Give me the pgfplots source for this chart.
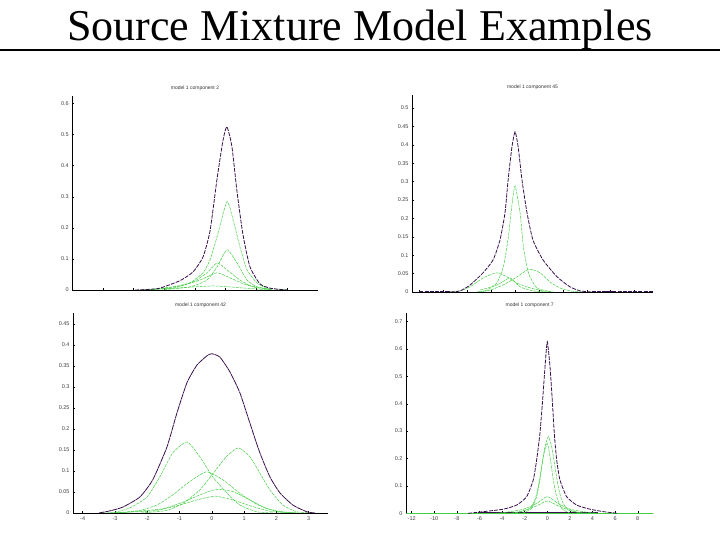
\documentclass[border=0pt]{standalone}
\usepackage{fontspec}
\setmainfont{Liberation Serif}
\setsansfont{Liberation Sans}
\usepackage{pgfplots}
\pgfplotsset{compat=1.18}
\definecolor{tot}{RGB}{55,15,75}
\definecolor{grn}{RGB}{70,205,70}
\pgfplotsset{
 panel/.style={
  scale only axis,
  axis x line=bottom, axis y line=left,
  axis line style={-, line width=0.6pt, black},
  tick style={black, line width=0.4pt},
  major tick length=2pt, tick align=inside,
  ticklabel style={font=\sffamily\fontsize{5.5}{6}\selectfont, text=black!75},
  /pgf/number format/assume math mode=true,
  /pgf/number format/fixed,
  /pgf/number format/precision=2,
  ymin=0,
  title style={font=\sffamily\fontsize{5}{6}\selectfont, text=black!80, yshift=-4pt},
  every axis plot/.append style={smooth, tension=0.35},
 },
 totl/.style={color=tot, line width=0.8pt, dash pattern=on 4pt off 1.2pt},
 comp/.style={color=grn, line width=0.5pt, dash pattern=on 3pt off 1pt},
}
\begin{document}
\begin{tikzpicture}
\useasboundingbox (0,0) rectangle (720pt,540pt);
\node[anchor=base, font=\fontsize{44}{48}\selectfont] at (360pt,499pt) {Source Mixture Model Examples};
\draw[line width=2pt] (0pt,490pt) -- (720pt,490pt);

% top-left
\begin{axis}[panel, at={(72.3pt,250pt)}, anchor=south west,
  width=245.4pt, height=194pt, xmin=-8, xmax=8, ymax=0.624,
  xtick={-6,-4,-2,0,2,4,6}, xticklabels={}, ytick={0,0.1,0.2,0.3,0.4,0.5,0.6},
  title={model 1 component 2}]
\addplot[comp] coordinates {(-7.7,0) (8,0)};
\addplot[comp] coordinates {(-3.6,0) (-1.3,0.006) (1.17,0.013) (3.26,0.006) (4.9,0)};
\addplot[comp] coordinates {(-3,0) (-0.98,0.013) (0.33,0.032) (1.43,0.055) (2.28,0.039) (3.39,0.016) (5,0.001)};
\addplot[comp] coordinates {(-3,0.001) (-1.43,0.01) (-0.13,0.026) (0.78,0.055) (1.43,0.087) (2.08,0.065) (2.93,0.032) (3.78,0.01) (5,0.001)};
\addplot[comp] coordinates {(-2,0.001) (-0.33,0.01) (0.78,0.032) (1.43,0.074) (2.08,0.129) (2.74,0.087) (3.39,0.032) (4.04,0.01) (5,0.001)};
\addplot[comp] coordinates {(-3,0.001) (-1.43,0.006) (-0.33,0.023) (0.52,0.055) (0.98,0.097) (1.43,0.17) (2.08,0.284) (2.48,0.226) (2.93,0.139) (3.39,0.065) (4.04,0.023) (4.69,0.006) (6,0.001)};
\addplot[totl] coordinates {(-3.9,0) (-3,0.002) (-2.28,0.006) (-0.98,0.03) (-0.13,0.058) (0.52,0.106) (0.98,0.19) (1.43,0.355) (1.82,0.48) (2.08,0.525) (2.41,0.46) (2.73,0.32) (3.12,0.18) (3.58,0.075) (4.23,0.02) (4.88,0.006) (5.5,0.002) (6,0)};
\end{axis}

% top-right
\begin{axis}[panel, at={(412pt,248pt)}, anchor=south west,
  width=241pt, height=197pt, xmin=-4.31, xmax=5.77, ymax=0.535,
  xtick={-4,-3,-2,-1,0,1,2,3,4,5}, xticklabels={},
  ytick={0,0.05,0.1,0.15,0.2,0.25,0.3,0.35,0.4,0.45,0.5},
  title={model 1 component 45}]
\addplot[comp] coordinates {(-1.46,0.005) (-0.75,0.019) (-0.21,0.038) (0.21,0.014) (0.75,0.003) (1.3,0)};
\addplot[comp] coordinates {(-1.5,0) (-1.05,0.005) (-0.5,0.019) (0.08,0.041) (0.59,0.062) (1.05,0.052) (1.46,0.027) (1.88,0.011) (2.3,0.003) (2.8,0)};
\addplot[comp] coordinates {(-2.8,0) (-2.3,0.003) (-1.88,0.014) (-1.34,0.038) (-0.77,0.052) (-0.33,0.041) (0.08,0.024) (0.63,0.011) (1.17,0.003) (1.6,0)};
\addplot[comp] coordinates {(-1.6,0) (-1.18,0.005) (-0.77,0.024) (-0.49,0.068) (-0.28,0.149) (-0.14,0.231) (0,0.288) (0.21,0.215) (0.35,0.122) (0.56,0.052) (0.91,0.011) (1.5,0.001)};
\addplot[totl] coordinates {(-2.7,0) (-2.3,0.003) (-1.88,0.019) (-1.34,0.052) (-0.92,0.087) (-0.63,0.141) (-0.42,0.215) (-0.29,0.304) (-0.13,0.394) (0,0.435) (0.13,0.394) (0.29,0.304) (0.5,0.215) (0.75,0.141) (1.17,0.087) (1.76,0.041) (2.3,0.014) (2.72,0.003) (3.2,0)};
\addplot[totl] coordinates {(-4.0,0.001) (-2.7,0.001)};
\addplot[totl] coordinates {(3.2,0.001) (5.77,0.001)};
\end{axis}

% bottom-left
\begin{axis}[panel, at={(73pt,27pt)}, anchor=south west,
  width=255pt, height=200pt, xmin=-4.3, xmax=3.6, ymax=0.476,
  xtick={-4,-3,-2,-1,0,1,2,3},
  ytick={0,0.05,0.1,0.15,0.2,0.25,0.3,0.35,0.4,0.45},
  title={model 1 component 42}]
\addplot[comp] coordinates {(-3.2,0) (-1.83,0.005) (-1.08,0.017) (-0.47,0.031) (0.1,0.040) (0.65,0.031) (1.28,0.015) (1.89,0.003) (2.6,0)};
\addplot[comp] coordinates {(-3.0,0) (-1.61,0.009) (-0.99,0.023) (-0.37,0.043) (0.14,0.056) (0.65,0.051) (1.18,0.031) (1.70,0.011) (2.20,0.002) (2.7,0)};
\addplot[comp] coordinates {(-3.0,0) (-2.23,0.006) (-1.70,0.019) (-1.21,0.043) (-0.68,0.075) (-0.16,0.098) (0.34,0.079) (0.87,0.047) (1.39,0.021) (1.89,0.006) (2.6,0)};
\addplot[comp] coordinates {(-2.2,0) (-1.40,0.006) (-0.89,0.023) (-0.37,0.055) (0.04,0.094) (0.45,0.134) (0.82,0.155) (1.18,0.134) (1.49,0.095) (1.80,0.055) (2.20,0.019) (2.63,0.003) (3.1,0)};
\addplot[comp] coordinates {(-3.4,0) (-3.06,0.001) (-2.54,0.012) (-2.01,0.038) (-1.61,0.086) (-1.21,0.143) (-0.77,0.169) (-0.37,0.134) (0.03,0.086) (0.46,0.048) (0.87,0.019) (1.39,0.003) (1.9,0)};
\addplot[totl, dash pattern=on 6pt off 0.6pt] coordinates {(-3.5,0) (-3.16,0.005) (-2.76,0.014) (-2.23,0.038) (-1.83,0.079) (-1.39,0.157) (-1.08,0.238) (-0.77,0.310) (-0.46,0.352) (-0.15,0.374) (0,0.379) (0.25,0.371) (0.56,0.336) (0.87,0.286) (1.18,0.214) (1.49,0.143) (1.80,0.086) (2.11,0.048) (2.51,0.019) (2.94,0.003) (3.2,0)};
\end{axis}

% bottom-right
\begin{axis}[panel, at={(406pt,26.7pt)}, anchor=south west,
  width=247.3pt, height=200pt, xmin=-12.5, xmax=9.38, ymax=0.73,
  xtick={-12,-10,-8,-6,-4,-2,0,2,4,6,8},
  ytick={0,0.1,0.2,0.3,0.4,0.5,0.6,0.7},
  title={model 1 component 7}]
\addplot[totl, solid, line width=1pt] coordinates {(-6.1,0.002) (4.5,0.002)};
\addplot[comp, solid] coordinates {(-12.5,0.001) (9.38,0.001)};
\addplot[comp] coordinates {(-3.2,0) (-2.1,0.010) (-0.94,0.027) (0,0.045) (0.97,0.027) (2.0,0.010) (3.1,0)};
\addplot[comp] coordinates {(-4.6,0) (-3.6,0.004) (-2.1,0.015) (-0.94,0.036) (0,0.061) (0.97,0.036) (2.0,0.015) (3.5,0.004) (4.5,0)};
\addplot[comp] coordinates {(-2.2,0) (-1.38,0.018) (-0.94,0.061) (-0.65,0.122) (-0.35,0.207) (0,0.255) (0.24,0.207) (0.53,0.122) (0.83,0.061) (1.27,0.018) (2.0,0)};
\addplot[comp] coordinates {(-3.2,0) (-2.42,0.005) (-1.53,0.018) (-1.09,0.049) (-0.8,0.097) (-0.5,0.170) (-0.2,0.243) (0.09,0.280) (0.39,0.243) (0.68,0.170) (0.97,0.097) (1.27,0.049) (1.71,0.018) (2.60,0.005) (3.4,0)};
\addplot[totl] coordinates {(-7,0) (-5.66,0.006) (-3.89,0.015) (-2.71,0.030) (-1.82,0.061) (-1.24,0.122) (-0.94,0.195) (-0.65,0.292) (-0.41,0.414) (-0.2,0.535) (0,0.626) (0.24,0.535) (0.44,0.414) (0.62,0.292) (0.83,0.195) (1.12,0.122) (1.71,0.061) (2.60,0.030) (3.78,0.015) (4.96,0.006) (6.2,0)};
\end{axis}
\end{tikzpicture}
\end{document}
